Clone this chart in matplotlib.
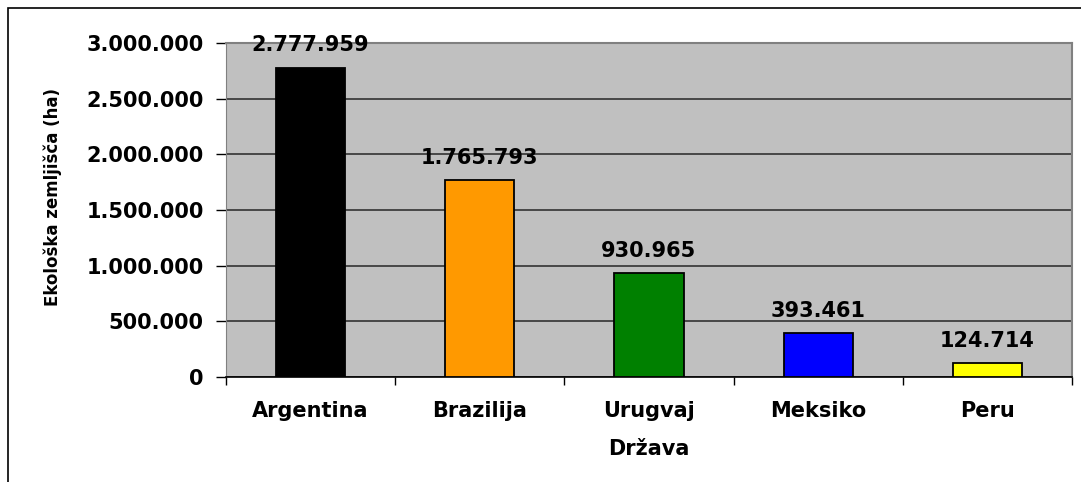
import matplotlib
matplotlib.use("Agg")
import matplotlib.pyplot as plt
from matplotlib.patches import Rectangle
from matplotlib.ticker import FuncFormatter, MultipleLocator, FixedLocator

countries = ['Argentina', 'Brazilija', 'Urugvaj', 'Meksiko', 'Peru']
area_ha = [2777959, 1765793, 930965, 393461, 124714]
colors = ['#000000', '#FF9900', '#008000', '#0000FF', '#FFFF00']


def dots(v):
    return f'{int(round(v)):,}'.replace(',', '.')


plt.rcParams['font.family'] = 'DejaVu Sans'
plt.rcParams['font.weight'] = 'bold'

fig = plt.figure(figsize=(10.81, 4.82), dpi=100)
# outer chart frame (cut off at right and bottom in the reference)
fig.add_artist(Rectangle((8 / 1081, -0.05), 1.2, 1 - 8 / 482 + 0.05,
                         transform=fig.transFigure, fill=False,
                         edgecolor='black', linewidth=1.2))

ax = fig.add_axes([226 / 1081, 105 / 482, 846 / 1081, 334 / 482])
ax.set_facecolor('#C0C0C0')

x = range(len(countries))
ax.bar(x, area_ha, width=0.41, color=colors, edgecolor='black',
       linewidth=1.3, zorder=3)

for i, v in enumerate(area_ha):
    ax.annotate(dots(v), (i, v), xytext=(0, 9), textcoords='offset points',
                ha='center', va='bottom', fontsize=15, fontweight='bold')

ax.set_xlim(-0.5, len(countries) - 0.5)
ax.set_ylim(0, 3000000)
ax.yaxis.set_major_locator(MultipleLocator(500000))
ax.yaxis.set_major_formatter(FuncFormatter(lambda v, p: dots(v)))
ax.grid(axis='y', color='#333333', linewidth=1.2, zorder=1)

ax.set_xticks(list(x))
ax.set_xticklabels(countries)
ax.tick_params(axis='x', which='major', length=0, pad=17, labelsize=15)
ax.xaxis.set_minor_locator(FixedLocator([i - 0.5 for i in range(len(countries) + 1)]))
ax.tick_params(axis='x', which='minor', length=6, width=1, direction='out')
ax.tick_params(axis='y', length=7, width=1, pad=9, labelsize=15)

for s in ['top', 'right']:
    ax.spines[s].set_color('#808080')
    ax.spines[s].set_linewidth(1.5)
ax.spines['left'].set_color('#808080')
ax.spines['bottom'].set_color('black')
ax.spines['bottom'].set_linewidth(1.2)

ax.set_xlabel('Država', fontsize=15, fontweight='bold', labelpad=13)
ax.set_ylabel('Ekološka zemljišča (ha)', fontsize=12, fontweight='bold')
ax.yaxis.set_label_coords(-0.194, 0.539)

fig.savefig('out.png', dpi=100)
